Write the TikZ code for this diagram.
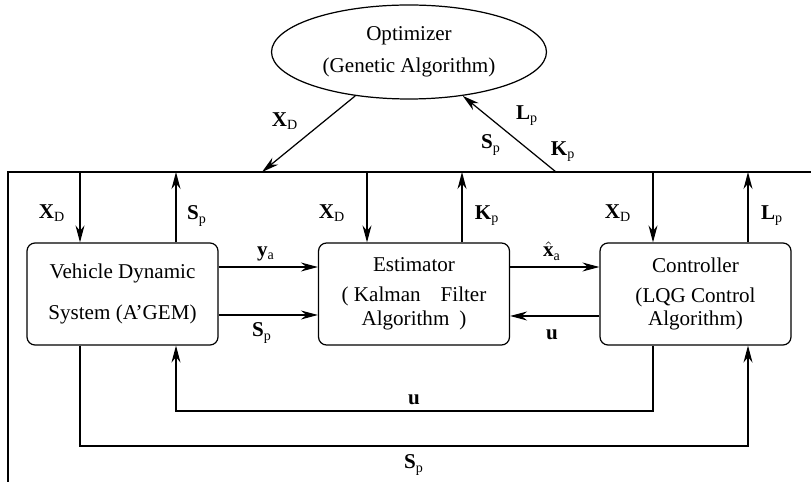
\documentclass[tikz,border=0pt]{standalone}
\usepackage{fontspec}
\setmainfont{Liberation Serif}
\usepackage{tikz}
\usetikzlibrary{shapes,arrows.meta,calc,positioning}
\newcommand{\sig}[2]{\textbf{#1}\textsubscript{#2}}

\begin{document}
\begin{tikzpicture}[x=0.02cm, y=-0.02cm, font=\fontsize{12}{14.4}\selectfont, line width=0.7pt,
  block/.style={draw, rounded corners=1.6mm, minimum width=3.82cm, minimum height=2.04cm, inner sep=0pt, align=center},
  flow/.style={-{Stealth[length=3.4mm,width=1.8mm]}},
  lab/.style={inner sep=0pt}]
\useasboundingbox (0,0) rectangle (811,482);
\clip (0,0) rectangle (811,482);

% outer frame (runs off the page on the right and bottom)
\draw (8,520) -- (8,172) -- (830,172);
\foreach \n/\x in {a/80,b/176,c/367,d/462,e/653,f/748,x/262,k/556} {
  \coordinate (f\n) at (\x,172);
}
\coordinate (ul) at (0,411);
\coordinate (sl) at (0,446);

\node[ellipse, draw, minimum width=5.5cm, minimum height=1.88cm, inner sep=0pt, align=center] (opt) at (409,52) {Optimizer\\[3.6pt](Genetic Algorithm)};

\node[block] (vds) at (122.5,294) {Vehicle Dynamic\\[9.4pt]System (A'GEM)};
\node[block] (est) at (414,294) {Estimator\\[2.6pt]( Kalman\hspace{0.4cm}Filter\\[-0.8pt]Algorithm\hspace{0.2cm})};
\node[block] (ctrl) at (695.5,294) {Controller\\[2.6pt](LQG Control\\[-0.8pt]Algorithm)};

% optimizer <-> frame
\draw[flow] (opt) -- (fx);
\draw[flow] (fk) -- (opt);
\node[lab] (l1) at (285,121) {\sig{X}{D}};
\node[lab] (l2) at (527,116) {\sig{L}{p}};
\node[lab] (l3) at (491,145) {\sig{S}{p}};
\node[lab] (l4) at (563,152) {\sig{K}{p}};

% frame <-> blocks
\draw[flow] (fa) -- (fa |- vds.north);
\draw[flow] (fb |- vds.north) -- (fb);
\draw[flow] (fc) -- (fc |- est.north);
\draw[flow] (fd |- est.north) -- (fd);
\draw[flow] (fe) -- (fe |- ctrl.north);
\draw[flow] (ff |- ctrl.north) -- (ff);
\node[lab] (l5) at (52,213) {\sig{X}{D}};
\node[lab] (l6) at (197,216) {\sig{S}{p}};
\node[lab] (l7) at (332,213) {\sig{X}{D}};
\node[lab] (l8) at (487,216) {\sig{K}{p}};
\node[lab] (l9) at (618,213) {\sig{X}{D}};
\node[lab] (l10) at (772,216) {\sig{L}{p}};

% between blocks
\draw[flow] ([yshift=0.54cm]vds.east) -- ([yshift=0.54cm]est.west);
\draw[flow] ([yshift=-0.42cm]vds.east) -- ([yshift=-0.42cm]est.west);
\draw[flow] ([yshift=0.54cm]est.east) -- ([yshift=0.54cm]ctrl.west);
\draw[flow] ([yshift=-0.44cm]ctrl.west) -- ([yshift=-0.44cm]est.east);
\node[lab] (l11) at (266,254) {\sig{y}{a}};
\node[lab] (l12) at (262,333) {\sig{S}{p}};
\node[lab] (l13) at (552,251) {$\hat{\mbox{\textbf{x}}}$\textsubscript{a}};
\node[lab] (l14) at (552,335) {\textbf{u}};

% feedback loops
\draw[flow] (ctrl.south -| fe) |- (ul -| fb) -- (vds.south -| fb);
\draw[flow] (vds.south -| fa) |- (sl -| ff) -- (ctrl.south -| ff);
\node[lab] (l15) at (414,400) {\textbf{u}};
\node[lab] (l16) at (414,465) {\sig{S}{p}};
\end{tikzpicture}
\end{document}
